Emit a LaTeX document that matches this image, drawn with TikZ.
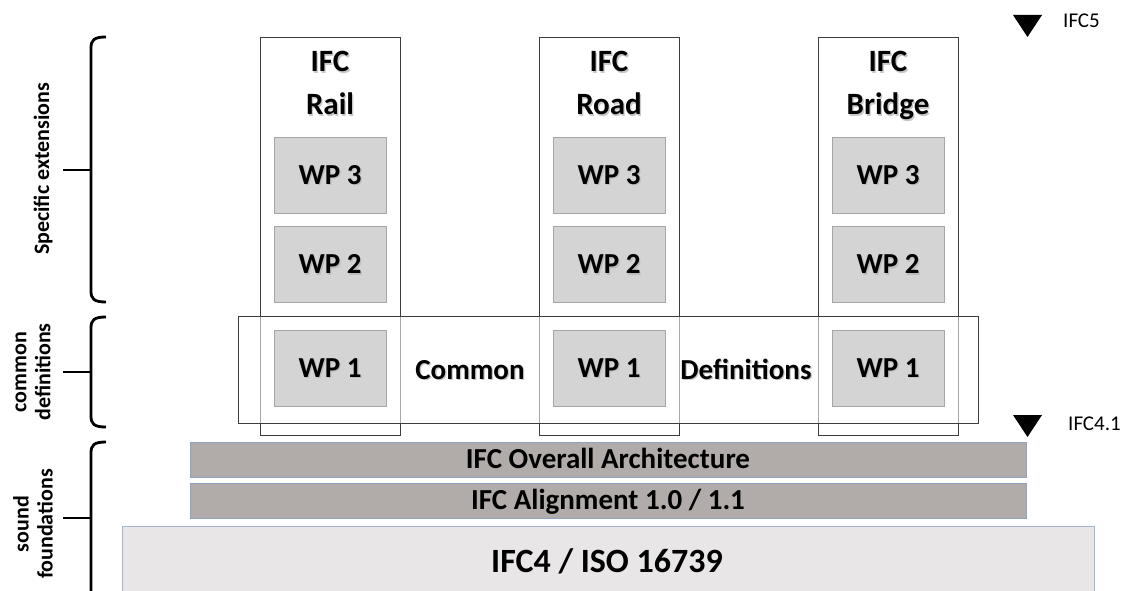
\documentclass[tikz,border=0pt]{standalone}
\usepackage{fontspec}
\setmainfont{Carlito}
\usetikzlibrary{calc}
\definecolor{frame}{HTML}{3C3C3C}
\definecolor{wpfill}{HTML}{D4D4D4}
\definecolor{wpline}{HTML}{A6A6A6}
\definecolor{barfill}{HTML}{B1ACA9}
\definecolor{barline}{HTML}{8EA4BE}
\definecolor{basefill}{HTML}{E8E6E7}
\definecolor{baseline}{HTML}{A2B5CB}
\tikzset{
  x=1pt, y=-1pt,
  colbox/.style={draw=frame, line width=0.9pt, minimum width=140pt, minimum height=398pt, inner sep=0pt},
  wpbox/.style={draw=wpline, fill=wpfill, line width=1pt, minimum width=112pt, minimum height=76pt, inner sep=0pt},
  titletext/.style={anchor=base, inner sep=0pt, font=\fontsize{31}{36}\selectfont\bfseries},
  bigword/.style={inner sep=0pt, text height=18.7pt, text depth=0pt, font=\fontsize{29}{34}\selectfont\bfseries},
  bar/.style={draw=barline, fill=barfill, line width=1pt, minimum width=836pt, minimum height=35pt, inner sep=0pt,
    text height=18.7pt, text depth=0pt, font=\fontsize{29}{34}\selectfont\bfseries},
  bracket/.style={line width=2.8pt, line cap=butt},
  sidetext/.style={rotate=90, align=center, font=\fontsize{22}{24}\selectfont\bfseries},
  version/.style={font=\fontsize{21}{24}\selectfont, anchor=west, inner sep=0pt},
  marker/.style={fill=black}
}
% soft grey copy of a word, set just below and right of it
\newcommand{\shtext}[3]{%
  \node[#1, text=black!30, opacity=0.7] at ($(#2)+(1.3,1.3)$) {#3};%
}
\begin{document}
\begin{tikzpicture}
\useasboundingbox (0,0) rectangle (1126,591);

% vertical columns
\node[colbox] (rail)   at (330,236) {};
\node[colbox] (road)   at (609,236) {};
\node[colbox] (bridge) at (888,236) {};

% band of common definitions, laid over the columns
\node[draw=frame, fill=white, fill opacity=0.55, line width=0.9pt, minimum width=740pt, minimum height=107pt, inner sep=0pt] (common) at (608,369.5) {};

% column titles
\foreach \n/\x/\t in {rail/330/Rail, road/609/Road, bridge/888/Bridge}{
  \shtext{titletext}{\x,72}{IFC}
  \shtext{titletext}{\x,115}{\t}
  \node[titletext] (t1\n) at (\x,72) {IFC};
  \node[titletext] (t2\n) at (\x,115) {\t};
}

% work packages
\foreach \c/\x in {a/330, b/609, c/888}{
  \node[wpbox] (wp3\c) at (\x,175) {};
  \node[wpbox] (wp2\c) at (\x,264.5) {};
  \node[wpbox] (wp1\c) at (\x,368) {};
  \shtext{bigword}{\x,175}{WP 3}
  \shtext{bigword}{\x,264.5}{WP 2}
  \shtext{bigword}{\x,368}{WP 1}
  \node[bigword] at (wp3\c) {WP 3};
  \node[bigword] at (wp2\c) {WP 2};
  \node[bigword] at (wp1\c) {WP 1};
}

% words of the common band
\shtext{bigword}{470,370}{Common}
\node[bigword] (wcommon) at (470,370) {Common};
\shtext{bigword}{746,370}{Definitions}
\node[bigword] (wdef) at (746,370) {Definitions};

% foundation layers
\node[bar] (arch) at (608,459.5) {IFC Overall Architecture};
\node[bar] (align) at (608,500.5) {IFC Alignment 1.0 / 1.1};
\node[draw=baseline, fill=basefill, line width=1pt, minimum width=972pt, minimum height=80pt, inner sep=0pt,
  anchor=north west] (base) at (122,526) {};
\node[inner sep=0pt, text height=21.9pt, text depth=0pt, font=\fontsize{34}{40}\selectfont\bfseries] (basetext) at (607,562) {IFC4 / ISO 16739};

% release markers
\fill[marker] (1013,15) -- (1042,15) -- (1027.5,37) -- cycle;
\node[version] (v5) at (1063,21) {IFC5};
\fill[marker] (1013,415) -- (1042,415) -- (1027.5,437) -- cycle;
\node[version] (v41) at (1068,424) {IFC4.1};

% left brackets
\draw[bracket] (106,37) .. controls (94,37) and (91,40) .. (91,48) -- (91,291)
  .. controls (91,299) and (94,302) .. (106,302);
\draw[bracket] (63,170) -- (91,170);
\draw[bracket] (106,317) .. controls (94,317) and (91,320) .. (91,328) -- (91,416)
  .. controls (91,424) and (94,427) .. (106,427);
\draw[bracket] (63,372) -- (91,372);
\draw[bracket] (106,442) .. controls (94,442) and (91,445) .. (91,453) -- (91,595);
\draw[bracket] (63,518) -- (91,518);

% side captions
\node[sidetext] (lspec) at (43,169) {Specific extensions};
\node[sidetext] (lcommon) at (33,372) {common\\definitions};
\node[sidetext] (lsound) at (33,524) {sound\\foundations};
\end{tikzpicture}
\end{document}
